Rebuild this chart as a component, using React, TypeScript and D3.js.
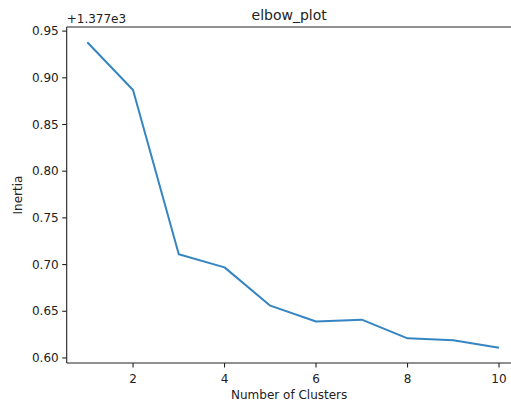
import React from "react";
import * as d3 from "d3";

const clusters = [1, 2, 3, 4, 5, 6, 7, 8, 9, 10];
const inertia = [0.938, 0.887, 0.711, 0.697, 0.656, 0.639, 0.641, 0.621, 0.619, 0.611];
const xTicks = [2, 4, 6, 8, 10];
const yTicks = [0.6, 0.65, 0.7, 0.75, 0.8, 0.85, 0.9, 0.95];

const W = 511;
const H = 406;
const left = 66.7;
const right = 519.6;
const top = 27;
const bottom = 363;
const font = "DejaVu Sans, sans-serif";

export default function App() {
  const x = d3.scaleLinear().domain([0.55, 10.45]).range([left, right]);
  const y = d3.scaleLinear().domain([0.5946, 0.9544]).range([bottom, top]);
  const line = d3
    .line<number>()
    .x((_, i) => x(clusters[i]))
    .y((d) => y(d));
  const cx = (left + right) / 2;
  return (
    <svg
      width={W}
      height={H}
      style={{ position: "absolute", left: 0, top: 0, background: "#fff" }}
      fontFamily={font}
    >
      <rect x={0} y={0} width={W} height={H} fill="#fff" />
      <path d={line(inertia) || ""} fill="none" stroke="#3585c2" strokeWidth={2} strokeLinejoin="round" />
      <g stroke="#222" strokeWidth={1.1} fill="none">
        <line x1={left} x2={left} y1={top} y2={bottom} />
        <line x1={left} x2={right} y1={bottom} y2={bottom} />
        <line x1={left} x2={right} y1={top} y2={top} />
        <line x1={right} x2={right} y1={top} y2={bottom} />
      </g>
      {yTicks.map((t) => (
        <g key={t}>
          <line x1={left - 4.5} x2={left} y1={y(t)} y2={y(t)} stroke="#222" strokeWidth={1.1} />
          <text x={left - 8} y={y(t)} dy="0.35em" textAnchor="end" fontSize={12} fill="#222">
            {t.toFixed(2)}
          </text>
        </g>
      ))}
      {xTicks.map((t) => (
        <g key={t}>
          <line x1={x(t)} x2={x(t)} y1={bottom} y2={bottom + 4.5} stroke="#222" strokeWidth={1.1} />
          <text x={x(t)} y={bottom + 20} textAnchor="middle" fontSize={12} fill="#222">
            {t}
          </text>
        </g>
      ))}
      <text x={left} y={top - 4} fontSize={12} fill="#222">+1.377e3</text>
      <text x={cx - 4} y={top - 7} textAnchor="middle" fontSize={14} fill="#222">elbow_plot</text>
      <text x={cx - 4} y={399} textAnchor="middle" fontSize={12} fill="#222">Number of Clusters</text>
      <text
        transform={`translate(22,${(top + bottom) / 2}) rotate(-90)`}
        textAnchor="middle"
        fontSize={12}
        fill="#222"
      >
        Inertia
      </text>
    </svg>
  );
}
